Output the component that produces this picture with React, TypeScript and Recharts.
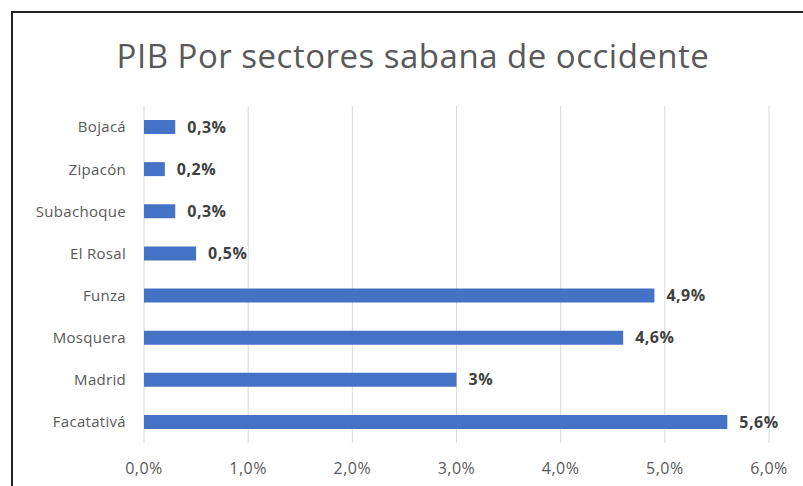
import React from 'react';
import { BarChart, Bar, XAxis, YAxis, CartesianGrid, LabelList } from 'recharts';

const municipios = ['Bojacá', 'Zipacón', 'Subachoque', 'El Rosal', 'Funza', 'Mosquera', 'Madrid', 'Facatativá'];
const pib = [0.3, 0.2, 0.3, 0.5, 4.9, 4.6, 3, 5.6];
const etiquetas = ['0,3%', '0,2%', '0,3%', '0,5%', '4,9%', '4,6%', '3%', '5,6%'];
const ticksX = [0, 1, 2, 3, 4, 5, 6];

const data = municipios.map((m, i) => ({ name: m, value: pib[i], label: etiquetas[i] }));

const FONT = '"Open Sans", sans-serif';

const App = () => {
  return (
    <div style={{ position: 'absolute', left: 0, top: 0, width: 803, height: 486, background: '#fff', overflow: 'hidden', fontFamily: FONT }}>
      {/* marco del grafico */}
      <div style={{ position: 'absolute', left: 11, top: 11, width: 820, height: 500, borderLeft: '2px solid #222', borderTop: '2px solid #222' }} />
      <div style={{ position: 'absolute', left: 0, width: 826, top: 33, textAlign: 'center', fontSize: 33, letterSpacing: 0.5, color: '#595959' }}>
        PIB Por sectores sabana de occidente
      </div>
      <BarChart
        width={803}
        height={486}
        data={data}
        layout="vertical"
        margin={{ top: 106, right: 34, bottom: 13, left: 0 }}
        barCategoryGap={14}
        style={{ position: 'absolute', left: 0, top: 0 }}
      >
        <CartesianGrid horizontal={false} stroke="#d9d9d9" />
        <XAxis
          type="number"
          domain={[0, 6]}
          ticks={ticksX}
          tickFormatter={(v: number) => v.toFixed(1).replace('.', ',') + '%'}
          axisLine={false}
          tickLine={false}
          tickMargin={14}
          height={30}
          tick={{ fill: '#595959', fontSize: 16, fontFamily: FONT, letterSpacing: 0.5 }}
        />
        <YAxis
          type="category"
          dataKey="name"
          width={144}
          axisLine={false}
          tickLine={false}
          tickMargin={12}
          tick={{ fill: '#595959', fontSize: 15, fontFamily: FONT, letterSpacing: 0.3 }}
        />
        <Bar dataKey="value" fill="#4472c4" barSize={14} isAnimationActive={false}>
          <LabelList dataKey="label" position="right" offset={12} fill="#404040" fontSize={16} fontWeight="bold" fontFamily={FONT} letterSpacing={0.5} />
        </Bar>
      </BarChart>
    </div>
  );
};

export default App;
